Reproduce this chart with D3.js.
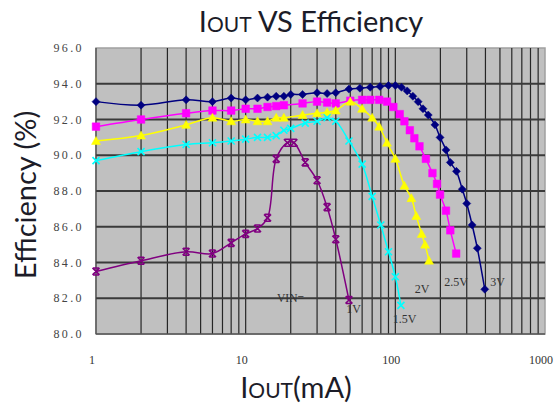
<!DOCTYPE html>
<html>
<head>
<meta charset="utf-8">
<script src="https://cdn.jsdelivr.net/npm/d3@7"></script>
<style>
  body { margin: 0; background: #fff; }
  svg { display: block; }
</style>
</head>
<body>
<div id="chart"></div>
<script>
// data
var yTicks = [80, 82, 84, 86, 88, 90, 92, 94, 96];
var xTicks = [1, 10, 100, 1000];

var iout3V = [1,2,4,6,8,10,12,14,16,18,20,24,30,35,40,49,58,68,79,90,100,110,120,131,142,153,166,184,199,218,233,256,280,300,326,353,396];
var eff3V = [93.0,92.8,93.1,93.0,93.2,93.1,93.2,93.25,93.3,93.3,93.4,93.4,93.5,93.45,93.5,93.7,93.75,93.8,93.85,93.9,93.9,93.8,93.6,93.3,93.0,92.6,92.25,91.7,91.0,90.3,89.6,89.1,88.1,87.3,86.1,84.8,82.5];

var iout25V = [1,2,4,6,8,10,12,14,16,18,24,30,35,40,50,60,68,78,88,97,107,115,125,134,145,160,177,190,199,218,233,255];
var eff25V = [91.6,92.0,92.35,92.5,92.5,92.6,92.6,92.7,92.75,92.8,92.9,93.0,92.95,92.9,93.05,93.1,93.1,93.1,93.0,92.7,92.3,91.9,91.4,90.95,90.5,89.8,89.0,88.4,87.8,86.9,85.8,84.5];

var iout2V = [1,2,4,6,8,10,12,14,16,18,24,30,35,40,50,60,70,78,88,100,115,128,138,150,158,168];
var eff2V = [90.8,91.1,91.7,92.1,91.9,92.0,91.9,91.9,92.1,92.1,92.25,92.35,92.4,92.5,93.0,92.6,92.1,91.6,90.7,89.8,88.3,87.6,86.6,85.6,85.0,84.1];

var iout15V = [1,2,4,6,8,10,12,14,16,18,20,25,30,35,40,49,60,70,80,90,100,109];
var eff15V = [89.7,90.2,90.6,90.7,90.8,90.9,91.0,91.0,91.1,91.4,91.5,91.8,91.9,92.1,91.9,90.8,89.5,87.7,86.1,84.6,83.2,81.6];

var iout1V = [1,2,4,6,8,10,12,14,16,19,21,25,30,35,40,49];
var eff1V = [83.5,84.1,84.6,84.5,85.1,85.6,85.9,86.5,89.8,90.7,90.7,89.6,88.6,87.1,85.3,81.9];

var seriesNames = ["3V", "2.5V", "2V", "1.5V", "1V"];
var seriesColors = ["#000080", "#ff00ff", "#ffff00", "#00ffff", "#800080"];
var seriesMarkers = ["diamond", "square", "triangle", "cross", "star"];
var seriesX = [iout3V, iout25V, iout2V, iout15V, iout1V];
var seriesY = [eff3V, eff25V, eff2V, eff15V, eff1V];

// label anchor points (data coords) for the VIN names
var labelX = [430, 212, 135, 96, 47];
var labelY = [82.7, 82.7, 82.3, 80.6, 81.2];

var width = 558, height = 408;
var plotLeft = 96, plotRight = 545, plotTop = 48, plotBottom = 334;

var svg = d3.select("#chart")
  .append("svg")
  .attr("width", width)
  .attr("height", height);

var x = d3.scaleLog().domain([1, 1000]).range([plotLeft, plotRight]);
var y = d3.scaleLinear().domain([80, 96]).range([plotBottom, plotTop]);

// plot background
svg.append("rect")
  .attr("x", plotLeft).attr("y", plotTop)
  .attr("width", plotRight - plotLeft).attr("height", plotBottom - plotTop)
  .attr("fill", "#c0c0c0")
  .attr("stroke", "#a0a0a0")
  .attr("stroke-width", 1.5);

// vertical grid, every minor log tick
var minor = [];
[1, 10, 100].forEach(function(d) {
  for (var k = 1; k <= 9; k++) minor.push(d * k);
});
minor.push(1000);

svg.append("g")
  .selectAll("line")
  .data(minor.slice(1, -1))
  .enter()
  .append("line")
  .attr("x1", function(d) { return x(d); })
  .attr("x2", function(d) { return x(d); })
  .attr("y1", plotTop)
  .attr("y2", plotBottom)
  .attr("stroke", "#262626")
  .attr("stroke-width", 1.2);

svg.append("g")
  .selectAll("line")
  .data(yTicks.slice(1, -1))
  .enter()
  .append("line")
  .attr("x1", plotLeft)
  .attr("x2", plotRight)
  .attr("y1", function(d) { return y(d); })
  .attr("y2", function(d) { return y(d); })
  .attr("stroke", "#3a3a3a")
  .attr("stroke-width", 2);

// left and bottom axis lines
svg.append("line")
  .attr("x1", plotLeft).attr("x2", plotLeft).attr("y1", plotTop).attr("y2", plotBottom)
  .attr("stroke", "#444").attr("stroke-width", 1.2);
svg.append("line")
  .attr("x1", plotLeft).attr("x2", plotRight).attr("y1", plotBottom).attr("y2", plotBottom)
  .attr("stroke", "#555").attr("stroke-width", 1.5);

// tick labels
svg.append("g")
  .selectAll("text")
  .data(yTicks)
  .enter()
  .append("text")
  .attr("x", 84)
  .attr("y", function(d) { return y(d); })
  .attr("dy", "0.35em")
  .attr("text-anchor", "end")
  .attr("font-family", "Liberation Serif")
  .attr("font-size", "12px")
  .attr("letter-spacing", "2.4px")
  .attr("fill", "#444")
  .text(function(d) { return d3.format(".1f")(d); });

svg.append("g")
  .selectAll("text")
  .data(xTicks)
  .enter()
  .append("text")
  .attr("x", function(d) { return x(d) - 4; })
  .attr("y", 364)
  .attr("text-anchor", "middle")
  .attr("font-family", "Liberation Serif")
  .attr("font-size", "12px")
  .attr("fill", "#333")
  .text(function(d) { return d; });

// series
function markerPath(type) {
  if (type == "diamond") return "M0,-4L4,0L0,4L-4,0Z";
  if (type == "square") return "M-3.8,-3.8H3.8V3.8H-3.8Z";
  if (type == "triangle") return "M0,-4.5L4.5,3.5H-4.5Z";
  if (type == "cross") return "M-3.5,-3.5L3.5,3.5M3.5,-3.5L-3.5,3.5";
  return "M-3.5,-3.5L3.5,3.5M3.5,-3.5L-3.5,3.5M-3,-3.5H3M-3,3.5H3";
}

var line = d3.line()
  .x(function(d) { return x(d[0]); })
  .y(function(d) { return y(d[1]); })
  .curve(d3.curveCatmullRom.alpha(0.5));

seriesNames.forEach(function(name, i) {
  var pts = seriesX[i].map(function(v, j) { return [v, seriesY[i][j]]; });
  var g = svg.append("g").attr("class", "series");
  g.append("path")
    .datum(pts)
    .attr("d", line)
    .attr("fill", "none")
    .attr("stroke", seriesColors[i])
    .attr("stroke-width", 1.5);
  var filled = seriesMarkers[i] != "cross" && seriesMarkers[i] != "star";
  g.selectAll("path.mk")
    .data(pts)
    .enter()
    .append("path")
    .attr("class", "mk")
    .attr("transform", function(d) { return "translate(" + x(d[0]) + "," + y(d[1]) + ")"; })
    .attr("d", markerPath(seriesMarkers[i]))
    .attr("fill", filled ? seriesColors[i] : "none")
    .attr("stroke", seriesColors[i])
    .attr("stroke-width", filled ? 0.5 : 1.6);

  svg.append("text")
    .attr("x", x(labelX[i]))
    .attr("y", y(labelY[i]))
    .attr("font-family", "Liberation Serif")
    .attr("font-size", "12px")
    .attr("fill", "#333")
    .text(name);
});

svg.append("text")
  .attr("x", 277)
  .attr("y", 302)
  .attr("font-family", "Liberation Serif")
  .attr("font-size", "11.5px")
  .attr("fill", "#333")
  .text("VIN=");

// titles
var title = svg.append("text")
  .attr("x", 311)
  .attr("y", 32)
  .attr("text-anchor", "middle")
  .attr("font-family", "Lato")
  .attr("font-size", "29px")
  .attr("fill", "#1c1c28");
title.append("tspan").text("I");
title.append("tspan").attr("font-size", "21px").text("OUT");
title.append("tspan").text(" VS Efficiency");

var xlab = svg.append("text")
  .attr("x", 296)
  .attr("y", 398)
  .attr("text-anchor", "middle")
  .attr("font-family", "Lato")
  .attr("font-size", "29px")
  .attr("fill", "#1c1c28");
xlab.append("tspan").text("I");
xlab.append("tspan").attr("font-size", "21px").text("OUT");
xlab.append("tspan").text("(mA)");

svg.append("text")
  .attr("transform", "translate(36,195) rotate(-90)")
  .attr("text-anchor", "middle")
  .attr("font-family", "Lato")
  .attr("font-size", "29px")
  .attr("fill", "#1c1c28")
  .text("Efficiency (%)");
</script>
</body>
</html>
